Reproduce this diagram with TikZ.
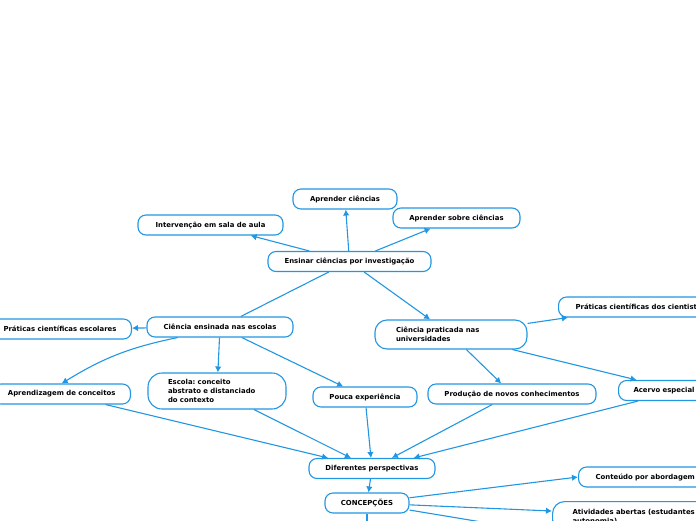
\documentclass[tikz,border=0pt]{standalone}
\usepackage{fontspec}
\setmainfont{DejaVu Sans}
\usetikzlibrary{arrows.meta}
\definecolor{mapblue}{RGB}{33,150,226}

\begin{document}
\frenchspacing
\begin{tikzpicture}[x=1pt, y=-1pt,
                topic/.style={draw=mapblue, fill=white, line width=1.1pt, rounded corners=8pt,
                    minimum height=20pt, inner xsep=15pt, inner ysep=2pt,
                    font=\fontsize{6.9}{8.6}\selectfont\bfseries},
                link/.style={draw=mapblue, line width=1.1pt, -{Latex[length=6pt,width=6.5pt]}},
                bare/.style={draw=mapblue, line width=1.1pt}]
                \useasboundingbox (0,0) rectangle (696,520);
                \clip (0,0) rectangle (696,520);
                % main topic and first level
                \node[topic, minimum width=163] (ensinar) at (349.5,261.5) {Ensinar ciências por investigação};
                \node[topic, minimum width=104] (aprcien) at (345,199) {Aprender ciências};
                \node[topic, minimum width=145] (interv) at (210.5,225) {Intervenção em sala de aula};
                \node[topic, minimum width=127] (aprsobre) at (456.5,218) {Aprender sobre ciências};
                \node[topic, minimum width=146] (ensinada) at (220,327) {Ciência ensinada nas escolas};
                \node[topic, minimum width=152, minimum height=29, text width=110, inner xsep=21,
                    align=left, rounded corners=12pt] (praticada) at (451,334.5) {Ciência praticada nas\\universidades};
                % second level
                \node[topic, anchor=east] (praesc) at (132,329) {Práticas científicas escolares};
                \node[topic, anchor=west, inner xsep=17] (pracien) at (558,307) {Práticas científicas dos cientistas};
                \node[topic, anchor=east] (aprend) at (131,394) {Aprendizagem de conceitos};
                \node[topic, minimum height=36, text width=98, inner xsep=20, align=left,
                    rounded corners=14pt] (escola) at (217,391) {Escola: conceito\\abstrato e distanciado\\do contexto};
                \node[topic, minimum width=104] (pouca) at (365,397) {Pouca experiência};
                \node[topic, minimum width=168] (producao) at (512,394) {Produção de novos conhecimentos};
                \node[topic, anchor=west] (acervo) at (618,390.5) {Acervo especial};
                % bottom part
                \node[topic, minimum width=126] (perspec) at (372,468.5) {Diferentes perspectivas};
                \node[topic, minimum width=84] (concep) at (367,503) {CONCEPÇÕES};
                \node[topic, anchor=west, inner xsep=17] (conteudo) at (578,477) {Conteúdo por abordagem};
                \node[topic, anchor=north west, text width=170, inner xsep=20, minimum height=30,
                    align=left, rounded corners=12pt] (ativ) at (552,501) {Atividades abertas (estudantes\\autonomia)};
                \coordinate (offright) at (530,530);
                \coordinate (offdown) at (367,545);
                % connectors
                \draw[link] (ensinar) -- (aprcien);
                \draw[link] (ensinar) -- (interv);
                \draw[link] (ensinar) -- (aprsobre);
                \draw[bare] (ensinar) -- (ensinada);
                \draw[link] (ensinar) -- (praticada);
                \draw[link] (ensinada) -- (praesc);
                \draw[link] (ensinada.194) to[bend right=10] (aprend.north);
                \draw[link] (ensinada) -- (escola);
                \draw[link] (ensinada) -- (pouca);
                \draw[link] (praticada) -- (pracien);
                \draw[link] (praticada) -- (producao);
                \draw[link] (praticada) -- (acervo.159);
                \draw[link] (aprend) -- (perspec);
                \draw[link] (escola) -- (perspec);
                \draw[link] (pouca) -- (perspec);
                \draw[link] (producao) -- (perspec);
                \draw[link] (acervo.202) -- (perspec);
                \draw[link] (perspec) -- (concep);
                \draw[link] (concep) -- (conteudo.west);
                \draw[link] (concep) -- (ativ.177);
                \draw[bare] (concep) -- (offright);
                \draw[bare] (concep) -- (offdown);
            \end{tikzpicture}
\end{document}
